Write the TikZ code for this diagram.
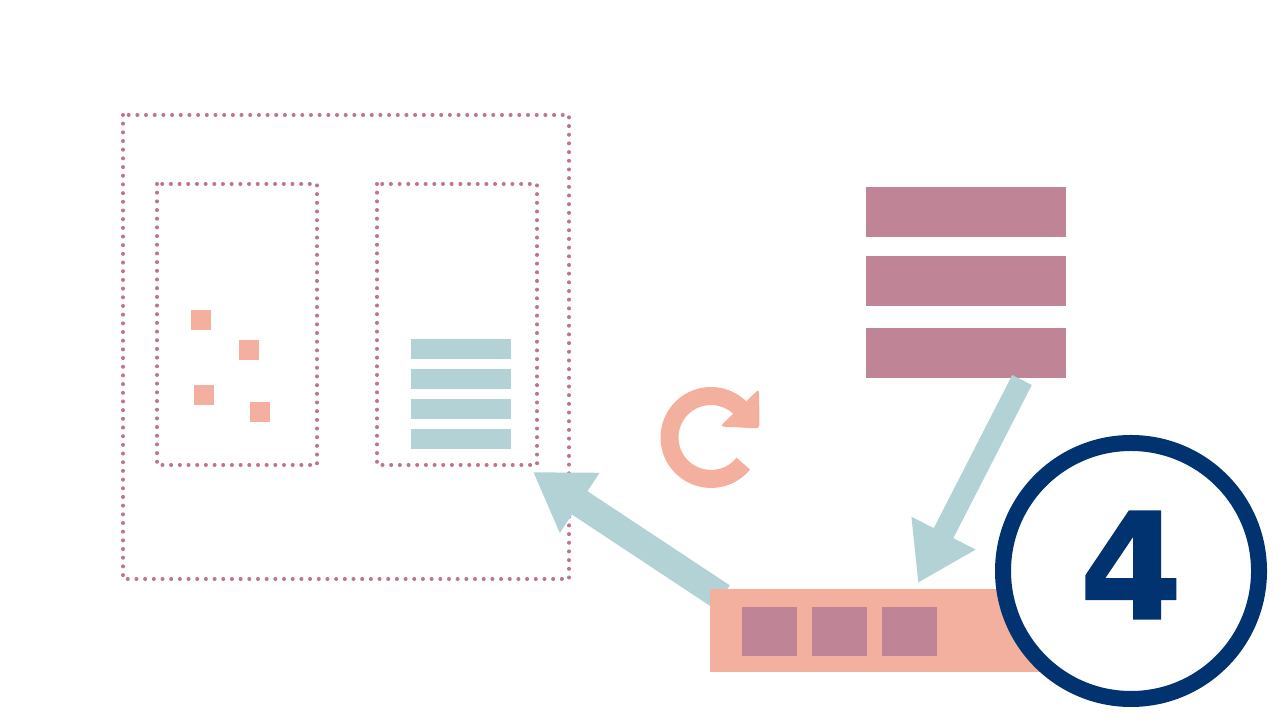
\documentclass[tikz,border=0pt]{standalone}
\usepackage{fontspec}
\setsansfont{DejaVu Sans}
\newfontfamily\numfont[FakeBold=1.2]{DejaVu Sans Bold}
\usetikzlibrary{arrows.meta}

\definecolor{mauve}{RGB}{191,132,150}
\definecolor{dotmauve}{RGB}{190,118,140}
\definecolor{salmon}{RGB}{244,176,158}
\definecolor{teal}{RGB}{178,210,213}
\definecolor{navy}{RGB}{0,51,111}

\begin{document}
\begin{tikzpicture}[
    dotbox/.style={draw=dotmauve, line width=1.15pt, line cap=round, dash pattern=on 0pt off 2.47pt},
    tealarrow/.style={draw=teal, line width=#1, -{Triangle[width=0.68cm, length=0.56cm]}},
    tealarrow/.default=0.24cm
  ]
      \useasboundingbox (0, 0) rectangle (12.8, 7.2);

      % containers
      \draw[dotbox] (1.23, 6.05) rectangle (5.69, 1.41);
      \draw[dotbox] (1.57, 5.36) rectangle (3.17, 2.55);
      \draw[dotbox] (3.77, 5.36) rectangle (5.37, 2.55);

      \fill[salmon] (1.91, 4.10) rectangle ++(0.2, -0.2);
      \fill[salmon] (2.39, 3.80) rectangle ++(0.2, -0.2);
      \fill[salmon] (1.94, 3.35) rectangle ++(0.2, -0.2);
      \fill[salmon] (2.50, 3.18) rectangle ++(0.2, -0.2);

      \foreach \y in {3.81, 3.51, 3.21, 2.91}
        \fill[teal] (4.11, \y) rectangle ++(1.0, -0.2);

      % stack
      \node[fill=mauve, minimum width=2cm, minimum height=0.5cm, inner sep=0] (s1) at (9.66, 5.08) {};
      \node[fill=mauve, minimum width=2cm, minimum height=0.5cm, inner sep=0] (s2) at (9.66, 4.39) {};
      \node[fill=mauve, minimum width=2cm, minimum height=0.5cm, inner sep=0] (s3) at (9.66, 3.67) {};

      % refresh
      \draw[salmon, line width=0.18cm] (7.11, 2.825) ++(45:0.415) arc (45:321:0.415);
      \fill[salmon, rounded corners=1pt] (7.59, 3.31) -- (7.595, 2.915) -- (7.20, 2.935) -- cycle;

      % arrows
      \coordinate (stackout) at (10.22, 3.40);
      \coordinate (intip) at (9.18, 1.37);
      \coordinate (barout) at (7.22, 1.23);
      \coordinate (boxin) at (5.33, 2.48);
      \draw[tealarrow=0.22cm] (stackout) -- (intip);
      \draw[tealarrow=0.28cm] (barout) -- (boxin);

      % bar
      \node[fill=salmon, minimum width=3.3cm, minimum height=0.83cm, inner sep=0] (bar) at (8.75, 0.895) {};
      \foreach \x in {7.42, 8.12, 8.82}
        \fill[mauve] (\x, 1.13) rectangle ++(0.55, -0.49);

      % step number
      \draw[navy, fill=white, line width=0.16cm] (11.31, 1.49) circle (1.28);
      \node[navy, font=\numfont\fontsize{42}{42}\selectfont] (num) at (11.31, 1.55) {4};
    \end{tikzpicture}
\end{document}
